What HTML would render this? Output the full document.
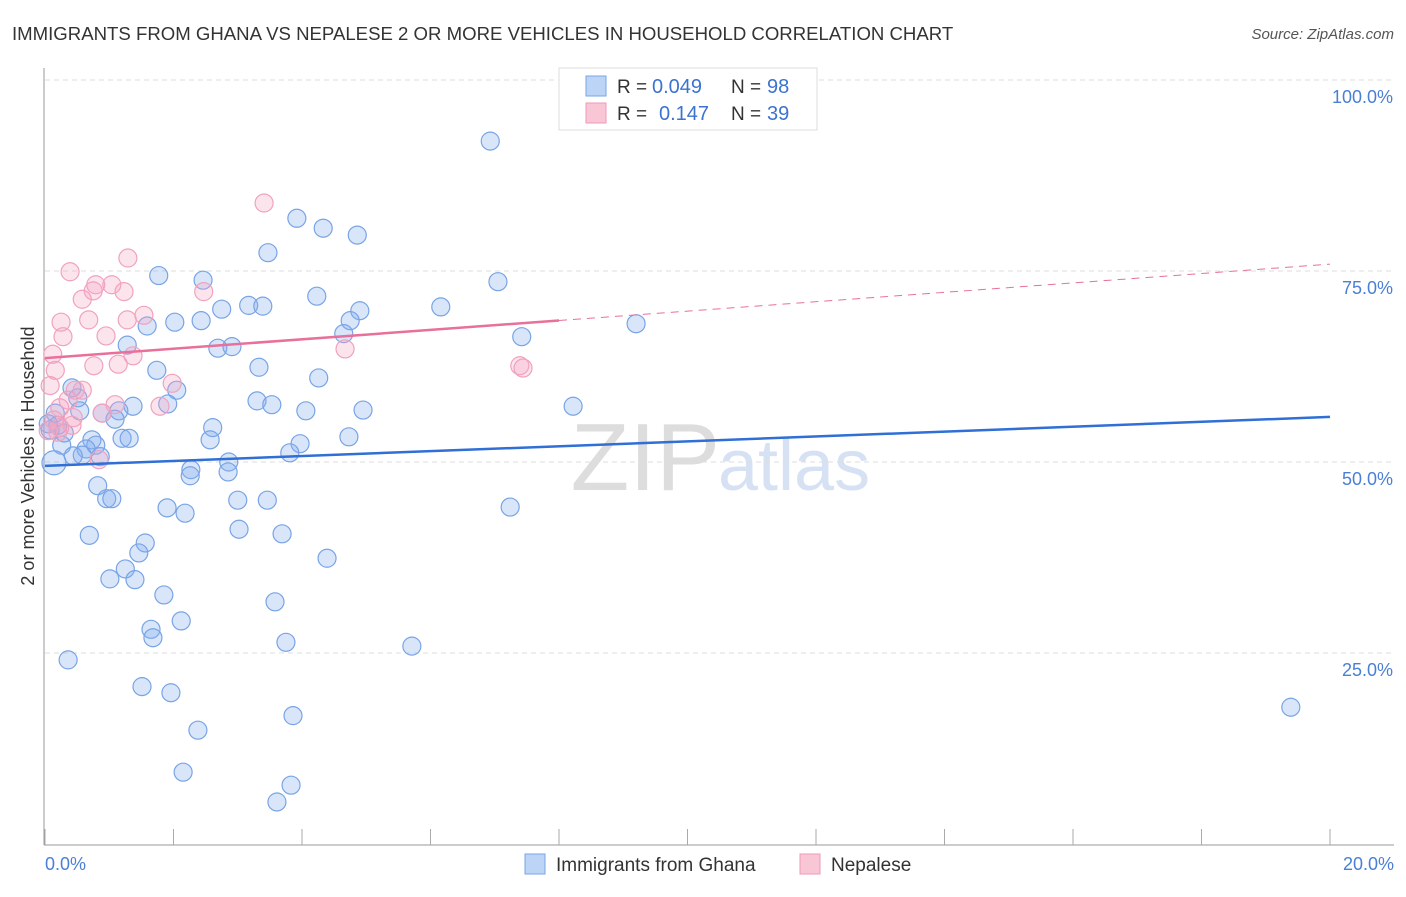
<!DOCTYPE html>
<html><head><meta charset="utf-8"><style>
body{margin:0;background:#fff;font-family:"Liberation Sans",sans-serif}
svg text{font-family:"Liberation Sans",sans-serif}
</style></head><body>
<svg width="1406" height="892" xmlns="http://www.w3.org/2000/svg">
<text x="12" y="40" font-size="18.6" fill="#333">IMMIGRANTS FROM GHANA VS NEPALESE 2 OR MORE VEHICLES IN HOUSEHOLD CORRELATION CHART</text>
<text x="1394" y="39" font-size="15" fill="#555" font-style="italic" text-anchor="end">Source: ZipAtlas.com</text>
<text x="720" y="490" font-size="96" fill="#ddd" font-family="Liberation Serif" text-anchor="end">ZIP</text>
<text x="718" y="490" font-size="72" fill="#d6e2f4">atlas</text>
<g id="grid"></g>
<line x1="44" y1="68" x2="44" y2="845" stroke="#999"/>
<line x1="44" y1="845" x2="1394" y2="845" stroke="#999"/>
<g id="ticks"></g>
<text transform="translate(34,456) rotate(-90)" font-size="18" fill="#333" text-anchor="middle">2 or more Vehicles in Household</text>
<text x="45" y="870" font-size="18" fill="#4a7fd6">0.0%</text>
<text x="1394" y="870" font-size="18" fill="#4a7fd6" text-anchor="end">20.0%</text>
<g id="pts"></g>
<g id="trends"></g>
<g>
<rect x="559" y="68" width="258" height="62" fill="#fff" stroke="#ddd"/>
<rect x="586" y="76" width="20" height="20" fill="#bcd4f6" stroke="#7aa5e6"/>
<rect x="586" y="103" width="20" height="20" fill="#f9c6d6" stroke="#ee9ab8"/>
<text x="617" y="93" font-size="19" fill="#333">R =</text>
<text x="652" y="93" font-size="20" fill="#3b73d1">0.049</text>
<text x="731" y="93" font-size="19" fill="#333">N =</text>
<text x="767" y="93" font-size="20" fill="#3b73d1">98</text>
<text x="617" y="120" font-size="19" fill="#333">R =</text>
<text x="659" y="120" font-size="20" fill="#3b73d1">0.147</text>
<text x="731" y="120" font-size="19" fill="#333">N =</text>
<text x="767" y="120" font-size="20" fill="#3b73d1">39</text>
</g>
<g>
<rect x="525" y="854" width="20" height="20" fill="#bcd4f6" stroke="#7aa5e6"/>
<text x="556" y="871" font-size="19" fill="#333">Immigrants from Ghana</text>
<rect x="800" y="854" width="20" height="20" fill="#f9c6d6" stroke="#ee9ab8"/>
<text x="831" y="871" font-size="19" fill="#333">Nepalese</text>
</g>
</svg>
<script>
const ghanaX=[6.93,3.92,4.33,4.86,3.47,1.77,2.46,7.05,4.23,3.17,3.39,2.75,6.16,4.90,2.02,2.43,1.59,4.75,9.20,4.65,7.42,1.28,2.69,2.91,3.33,1.74,4.26,2.05,0.42,0.51,3.30,3.53,1.91,1.37,8.22,4.95,4.06,0.54,1.15,0.16,0.89,1.09,0.20,0.08,2.61,4.73,1.20,1.31,2.57,0.73,0.26,0.79,3.97,0.64,3.81,0.58,0.44,0.86,0.14,2.86,2.27,2.85,2.26,0.82,0.96,1.04,3.00,3.46,7.24,1.90,2.18,3.02,0.69,3.69,1.56,1.46,4.39,1.25,1.01,1.40,1.85,3.58,1.65,2.12,1.68,3.75,5.71,0.36,19.39,1.51,1.96,3.86,2.38,2.15,3.83,3.61,0.05,0.30];
const ghanaY=[92.0,81.9,80.6,79.7,77.4,74.4,73.8,73.6,71.7,70.5,70.4,70.0,70.3,69.8,68.3,68.5,67.8,68.5,68.1,66.8,66.4,65.3,64.9,65.1,62.4,62.0,61.0,59.4,59.7,58.4,58.0,57.5,57.6,57.3,57.3,56.8,56.7,56.7,56.7,56.4,56.4,55.6,54.8,54.2,54.5,53.3,53.1,53.1,52.9,52.9,52.2,52.2,52.4,51.7,51.2,50.9,50.8,50.7,49.9,50.0,49.0,48.7,48.2,46.9,45.2,45.2,45.0,45.0,44.1,44.0,43.3,41.2,40.4,40.6,39.4,38.1,37.4,36.0,34.7,34.6,32.6,31.7,28.1,29.2,27.0,26.4,25.9,24.1,17.9,20.6,19.8,16.8,14.9,9.4,7.7,5.5,55.0,53.8];
const nepalX=[3.41,1.29,0.39,0.79,1.04,0.75,1.23,2.47,0.58,1.54,1.28,0.25,0.68,0.28,0.95,4.67,0.12,1.37,1.14,0.76,0.16,7.39,7.44,1.98,0.08,0.47,0.58,0.36,1.79,1.09,0.23,0.89,0.44,0.14,0.42,0.23,0.84,0.05,0.20];
const nepalY=[83.9,76.7,74.9,73.2,73.2,72.4,72.3,72.3,71.3,69.2,68.6,68.3,68.6,66.4,66.5,64.8,64.1,63.9,62.8,62.6,62.0,62.6,62.3,60.3,60.0,59.4,59.4,58.1,57.3,57.5,57.1,56.4,55.8,55.5,54.8,54.5,50.3,54.1,53.9];
const ghanaTrend=[49.5,55.9];
const nepalTrend=[63.6,75.9];
const nepalSolidEnd=8.0;
const yTicks=[25,50,75,100];
const yTickLabels=["25.0%","50.0%","75.0%","100.0%"];
const xTicks=[0,2,4,6,8,10,12,14,16,18,20];
const NS="http://www.w3.org/2000/svg";
const sx=v=>45+v/20*1285, sy=v=>844-v/100*764;
function mk(t,a,p){const e=document.createElementNS(NS,t);for(const k in a)e.setAttribute(k,a[k]);document.getElementById(p).appendChild(e);return e;}
yTicks.forEach((v,i)=>{
 const l=mk('line',{x1:45,x2:1394,y1:sy(v),y2:sy(v),stroke:'#ddd','stroke-dasharray':'5,4'},'grid');
 
 
 const t=mk('text',{x:1393,y:sy(v)+23,'font-size':18,fill:'#4a7fd6','text-anchor':'end'},'grid');
 t.textContent=yTickLabels[i];
 
 
});
mk('line',{x1:45,x2:1394,y1:80,y2:80,stroke:'#ddd','stroke-dasharray':'5,4'},'grid');
xTicks.forEach(v=>{
 const l=mk('line',{x1:sx(v),x2:sx(v),y1:829,y2:845,stroke:'#aaa'},'ticks');
 
 
});
ghanaX.forEach((x,i)=>{
 const c=mk('circle',{cx:sx(x),cy:sy(ghanaY[i]),r:(i==58?12:9),fill:'rgba(130,172,238,0.3)',stroke:'#78a4e6','stroke-width':1.2},'pts');
 
 
});
nepalX.forEach((x,i)=>{
 const c=mk('circle',{cx:sx(x),cy:sy(nepalY[i]),r:9,fill:'rgba(245,165,195,0.3)',stroke:'#f0a2be','stroke-width':1.2},'pts');
 
 
});
const py=x=>nepalTrend[0]+(nepalTrend[1]-nepalTrend[0])*x/20;
const b=mk('line',{x1:sx(0),y1:sy(ghanaTrend[0]),x2:sx(20),y2:sy(ghanaTrend[1]),stroke:'#2f6fd6','stroke-width':2.5},'trends');


const p=mk('line',{x1:sx(0),y1:sy(py(0)),x2:sx(nepalSolidEnd),y2:sy(py(nepalSolidEnd)),stroke:'#e8709a','stroke-width':2.5},'trends');


const pd=mk('line',{x1:sx(nepalSolidEnd),y1:sy(py(nepalSolidEnd)),x2:sx(20),y2:sy(py(20)),stroke:'#e8709a','stroke-width':1,'stroke-dasharray':'8,6'},'trends');


</script>
</body></html>
